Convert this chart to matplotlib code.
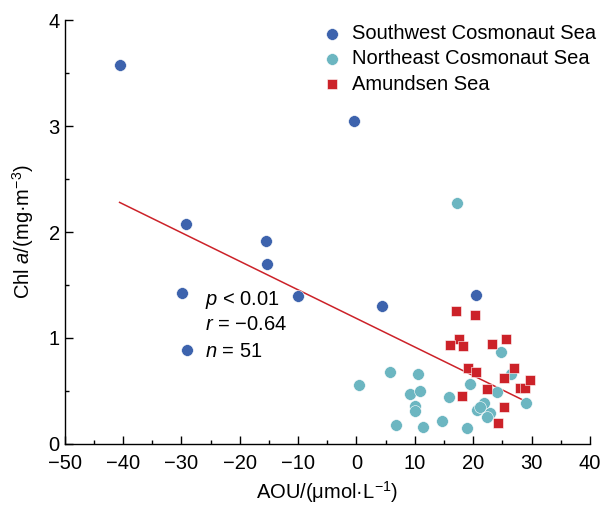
import numpy as np
import matplotlib
matplotlib.use("Agg")
import matplotlib.pyplot as plt
from matplotlib.ticker import MultipleLocator

plt.rcParams['font.family'] = ['Liberation Sans', 'DejaVu Sans']
plt.rcParams['mathtext.fontset'] = 'custom'
plt.rcParams['mathtext.rm'] = 'Liberation Sans'
plt.rcParams['mathtext.it'] = 'Liberation Sans:italic'

# Southwest Cosmonaut Sea
sw_aou = [-40.6, -29.3, -0.5, -15.5, -15.4, -29.9, -29.1, -10.0, 4.3, 20.5]
sw_chl = [3.58, 2.08, 3.05, 1.92, 1.70, 1.42, 0.89, 1.40, 1.30, 1.41]

# Northeast Cosmonaut Sea
ne_aou = [0.4, 5.8, 10.5, 9.1, 10.9, 10.1, 10.1, 6.7, 11.4, 14.7, 15.8, 18.9,
          19.4, 24.7, 26.5, 24.0, 21.9, 20.6, 22.9, 22.3, 21.1, 29.0, 17.2]
ne_chl = [0.56, 0.68, 0.66, 0.47, 0.50, 0.36, 0.31, 0.18, 0.16, 0.22, 0.44, 0.15,
          0.57, 0.87, 0.66, 0.49, 0.39, 0.32, 0.29, 0.25, 0.35, 0.39, 2.27]

# Amundsen Sea
am_aou = [17.0, 20.3, 17.5, 16.1, 18.3, 23.3, 25.7, 19.1, 20.4, 27.0, 25.3, 22.4,
          18.0, 28.0, 28.9, 29.8, 25.2, 24.3]
am_chl = [1.25, 1.22, 0.99, 0.93, 0.92, 0.94, 0.99, 0.72, 0.68, 0.72, 0.62, 0.52,
          0.45, 0.53, 0.53, 0.60, 0.35, 0.20]

# regression line
fit_x = [-40.6, 29.8]
fit_y = [2.28, 0.38]

c_sw = '#3d63ad'
c_ne = '#6cb6c1'
c_am = '#cc2229'

fig = plt.figure(figsize=(6.05, 5.05), dpi=100)
ax = fig.add_axes([0.107, 0.121, 0.868, 0.839])

ax.plot(fit_x, fit_y, color=c_am, lw=1.1, zorder=1)
ax.scatter(sw_aou, sw_chl, s=72, color=c_sw, edgecolor='white', linewidth=0.4,
           label='Southwest Cosmonaut Sea', zorder=3)
ax.scatter(ne_aou, ne_chl, s=72, color=c_ne, edgecolor='white', linewidth=0.4,
           label='Northeast Cosmonaut Sea', zorder=2)
ax.scatter(am_aou, am_chl, s=62, marker='s', color=c_am, edgecolor='white',
           linewidth=0.4, label='Amundsen Sea', zorder=4)

ax.set_xlim(-50, 40)
ax.set_ylim(0, 4)
ax.xaxis.set_major_locator(MultipleLocator(10))
ax.xaxis.set_minor_locator(MultipleLocator(5))
ax.yaxis.set_major_locator(MultipleLocator(1))
ax.yaxis.set_minor_locator(MultipleLocator(0.5))
ax.tick_params(which='both', direction='in', width=1, labelsize=14.5)
ax.tick_params(which='major', length=6)
ax.tick_params(which='minor', length=3)
ax.tick_params(axis='x', pad=7)
ax.spines['top'].set_visible(False)
ax.spines['right'].set_visible(False)
for sp in ['left', 'bottom']:
    ax.spines[sp].set_linewidth(1)

ax.set_xlabel('AOU/(μmol·L$^{-1}$)', fontsize=14.5, labelpad=5)
ax.set_ylabel('Chl $\\it{a}$/(mg·m$^{-3}$)', fontsize=14.5, labelpad=9)

ax.text(0.267, 0.34, '$\\it{p}$ < 0.01', transform=ax.transAxes, fontsize=14.5, va='center')
ax.text(0.267, 0.281, '$\\it{r}$ = −0.64', transform=ax.transAxes, fontsize=14.5, va='center')
ax.text(0.267, 0.219, '$\\it{n}$ = 51', transform=ax.transAxes, fontsize=14.5, va='center')

leg = ax.legend(loc='upper left', bbox_to_anchor=(0.49, 0.99), frameon=False,
                fontsize=14.5, handlelength=1.0, handletextpad=0.5,
                labelspacing=0.3, borderaxespad=0, borderpad=0, markerscale=1.0)

fig.savefig('out.png', dpi=100)
